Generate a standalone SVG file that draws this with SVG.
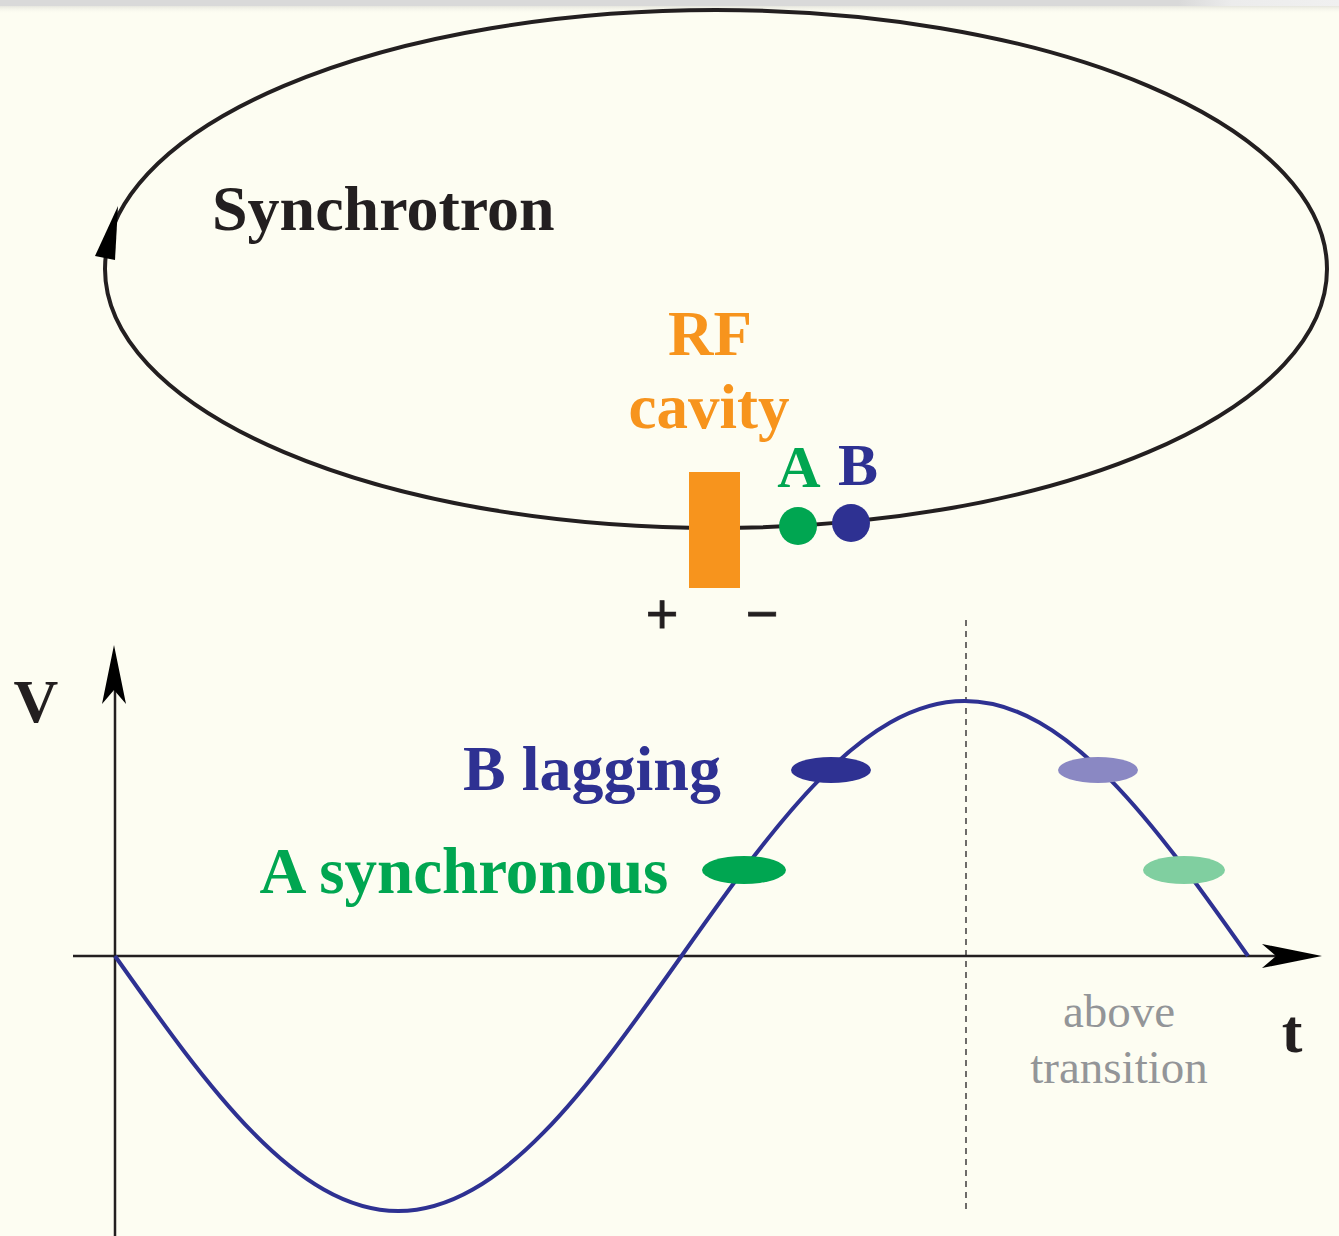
<svg xmlns="http://www.w3.org/2000/svg" width="1339" height="1236" viewBox="0 0 1339 1236">
<defs>
<style>
.bold{font-family:"Liberation Serif","Times New Roman",serif;font-weight:bold;}
.reg{font-family:"Liberation Serif","Times New Roman",serif;}
.sans{font-family:"Liberation Sans",Arial,sans-serif;}
</style>
<linearGradient id="shade" x1="0" y1="0" x2="0" y2="1">
<stop offset="0" stop-color="#e6e6de"/>
<stop offset="1" stop-color="#fdfdf2" stop-opacity="0"/>
</linearGradient>
<linearGradient id="barfade" x1="0" y1="0" x2="1" y2="0">
<stop offset="0.88" stop-color="#d9d9d9"/>
<stop offset="0.92" stop-color="#ececec"/>
<stop offset="1" stop-color="#f0f0f0"/>
</linearGradient>
</defs>
<rect x="0" y="0" width="1339" height="1236" fill="#fdfdf2"/>
<rect x="0" y="6" width="1339" height="8" fill="url(#shade)"/>
<rect x="0" y="0" width="1339" height="6" fill="url(#barfade)"/>

<g id="ring">
<ellipse cx="716" cy="269" rx="611" ry="259" fill="none" stroke="#231f20" stroke-width="4"/>
<polygon points="118,206 95,256 115,260" fill="#000"/>
<text class="bold" x="212" y="230" font-size="64" fill="#231f20">Synchrotron</text>
</g>

<g id="rf-cavity">
<rect x="689" y="472" width="51" height="116" fill="#f7941d"/>
<text class="bold" x="710" y="355" font-size="63" fill="#f7941d" text-anchor="middle">RF</text>
<text class="bold" x="709" y="428" font-size="63" fill="#f7941d" text-anchor="middle">cavity</text>
<text class="sans" x="662" y="633" font-size="56" fill="#231f20" stroke="#231f20" stroke-width="0.8" text-anchor="middle">+</text>
<text class="sans" x="762" y="633" font-size="56" fill="#231f20" stroke="#231f20" stroke-width="0.8" text-anchor="middle">−</text>
</g>

<g id="bunch-A">
<circle cx="798" cy="526" r="19" fill="#00a651"/>
<text class="bold" x="799" y="487" font-size="60" fill="#00a651" text-anchor="middle">A</text>
</g>
<g id="bunch-B">
<circle cx="851" cy="523" r="19" fill="#2e3192"/>
<text class="bold" x="858" y="485" font-size="60" fill="#2e3192" text-anchor="middle">B</text>
</g>

<g id="axes">
<line x1="115" y1="1236" x2="115" y2="690" stroke="#231f20" stroke-width="2.5"/>
<polygon points="114,645 102,704 114,690 126,704" fill="#000"/>
<line x1="73" y1="956" x2="1280" y2="956" stroke="#231f20" stroke-width="2.5"/>
<polygon points="1322,956 1262,944 1276,956 1262,968" fill="#000"/>
<text class="bold" x="36" y="722" font-size="62" fill="#231f20" text-anchor="middle">V</text>
<text class="bold" x="1292" y="1052" font-size="62" fill="#231f20" text-anchor="middle">t</text>
<line x1="966" y1="620" x2="966" y2="1210" stroke="#231f20" stroke-width="1.3" stroke-dasharray="6,5"/>
</g>

<g id="waveform">
<path d="M115,956 C207.4,1086.6 295.7,1211 398.25,1211 C500.8,1211 589.1,1086.6 681.5,956 C773.9,825.4 862.2,701 964.75,701 C1067.3,701 1155.6,825.4 1248,956" fill="none" stroke="#2e3192" stroke-width="4"/>
</g>

<g id="bunch-markers">
<ellipse cx="744" cy="870" rx="42" ry="14" fill="#00a651"/>
<ellipse cx="831" cy="770" rx="40" ry="13" fill="#2e3192"/>
<ellipse cx="1098" cy="770" rx="40" ry="13" fill="#8a88c3"/>
<ellipse cx="1184" cy="870" rx="41" ry="14" fill="#80cfa0"/>
</g>

<g id="labels">
<text class="bold" x="592" y="790" font-size="64" fill="#2e3192" text-anchor="middle">B lagging</text>
<text class="bold" x="464" y="893" font-size="65" fill="#00a651" text-anchor="middle">A synchronous</text>
<text class="reg" x="1119" y="1027" font-size="47" fill="#939598" text-anchor="middle">above</text>
<text class="reg" x="1119" y="1083" font-size="47" fill="#939598" text-anchor="middle">transition</text>
</g>
</svg>
